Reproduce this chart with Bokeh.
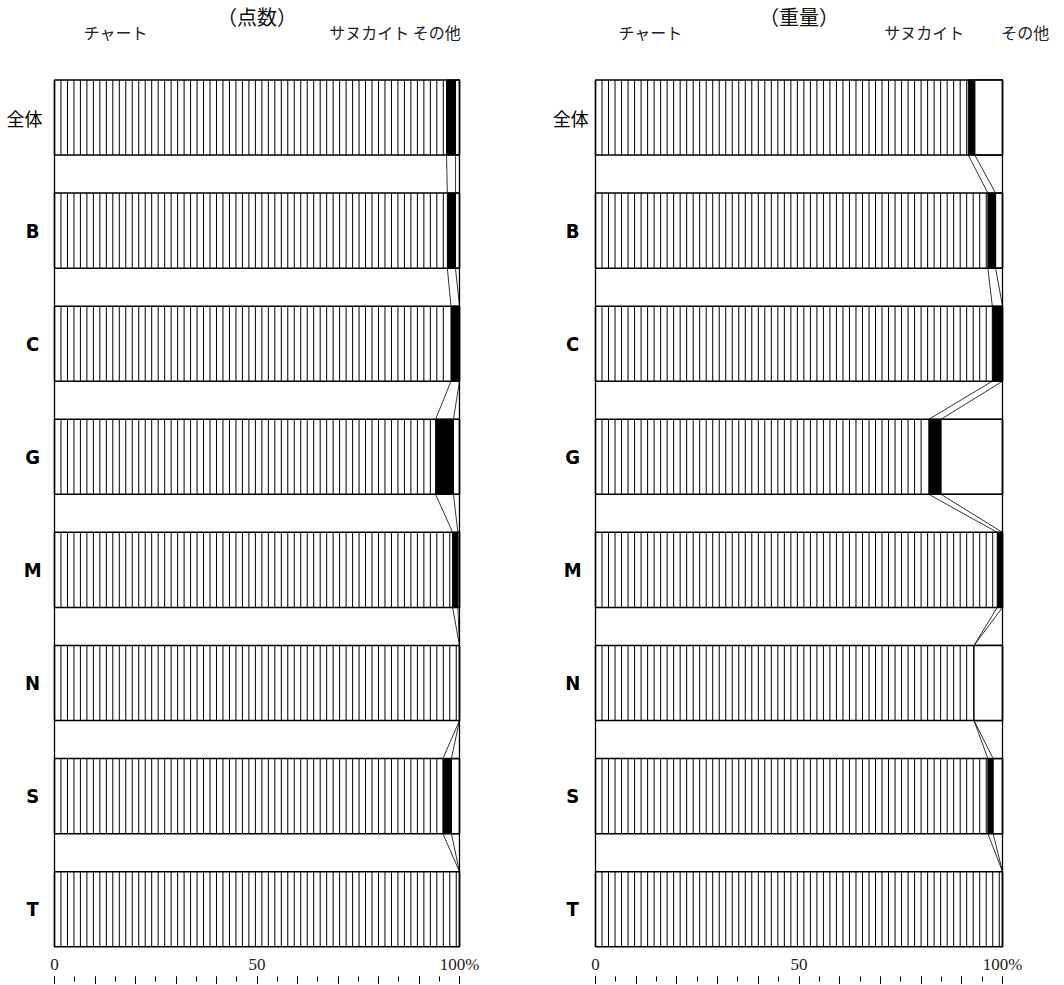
from bokeh.plotting import figure
from bokeh.layouts import row
from bokeh.models import Range1d, LinearAxis, FixedTicker, ColumnDataSource
from bokeh.core.properties import value
from bokeh.embed import file_html
from bokeh.resources import INLINE

# ---------------- data ----------------
groups = ["全体", "B", "C", "G", "M", "N", "S", "T"]

count_chert = [96.8, 97.0, 97.9, 94.1, 98.3, 100.0, 95.9, 100.0]
count_sanukite = [2.2, 2.0, 2.1, 4.4, 1.3, 0.0, 2.1, 0.0]
count_other = [1.0, 1.0, 0.0, 1.5, 0.4, 0.0, 2.0, 0.0]

weight_chert = [91.6, 96.4, 97.5, 81.9, 98.7, 93.0, 96.4, 100.0]
weight_sanukite = [1.6, 1.9, 2.5, 3.0, 1.3, 0.0, 1.3, 0.0]
weight_other = [6.8, 1.7, 0.0, 15.1, 0.0, 7.0, 2.3, 0.0]

tick_labels = {0: "0", 50: "50", 100: "100%"}
panel_titles = ["（点数）", "（重量）"]

# ---------------- layout constants ----------------
FIG_H = 984
FRAME_H = FIG_H - 34   # axes take ~34 px below the frame
PITCH = 113.1          # px per row
ROW0 = 117             # px from frame top to first row centre
Y_TOP = -ROW0 / PITCH
Y_BOT = (FRAME_H - ROW0) / PITCH
HALF = 0.332
STRIPE = 1.6

SERIF = "Liberation Serif"
JP = value("Noto Sans CJK JP")
NARROW = value("'Liberation Sans Narrow', 'DejaVu Sans Condensed', 'DejaVu Sans', sans-serif")


def ypx(px):
    """pixel offset from frame top -> data y"""
    return (px - ROW0) / PITCH


def panel(title, chert, san, other, width, x0px, x100px, fig_left, headers,
          label_x_big, label_x_small):
    scale = (x100px - x0px) / 100.0
    xs = (fig_left - x0px) / scale
    xe = (fig_left + width - x0px) / scale
    p = figure(width=width, height=FIG_H, x_range=Range1d(xs, xe),
               y_range=Range1d(Y_BOT, Y_TOP), x_axis_type=None, y_axis_type=None,
               output_backend="svg", toolbar_location=None, min_border=0,
               outline_line_color=None)
    p.background_fill_color = "white"

    n = len(groups)
    ys = list(range(n))
    end_s = [c + s for c, s in zip(chert, san)]

    src = ColumnDataSource(dict(y=ys, c=chert, s0=list(chert), s1=end_s,
                                o1=[e + o for e, o in zip(end_s, other)]))
    # chert region (white, stripes drawn on top)
    p.hbar(y="y", left=0, right="c", height=2 * HALF, source=src,
           fill_color="white", line_color=None)
    sx, sy0, sy1 = [], [], []
    for i, c in enumerate(chert):
        k = 1
        while k * STRIPE < c - 0.3:
            sx.append(k * STRIPE)
            sy0.append(i - HALF)
            sy1.append(i + HALF)
            k += 1
    p.segment(x0=sx, x1=sx, y0=sy0, y1=sy1, line_color="black", line_width=1)
    # sanukite
    p.hbar(y="y", left="s0", right="s1", height=2 * HALF, source=src,
           fill_color="black", line_color="black", line_width=1)
    # other
    p.hbar(y="y", left="s1", right="o1", height=2 * HALF, source=src,
           fill_color="white", line_color="black", line_width=1.2)
    # outline
    p.hbar(y="y", left=0, right=100, height=2 * HALF, source=src,
           fill_color=None, line_color="black", line_width=1.5)

    # connectors between bars
    cx0, cx1, cy0, cy1 = [], [], [], []
    for i in range(n - 1):
        for a, b in ((chert[i], chert[i + 1]), (end_s[i], end_s[i + 1])):
            cx0.append(a); cx1.append(b)
            cy0.append(i + HALF); cy1.append(i + 1 - HALF)
    p.segment(x0=cx0, x1=cx1, y0=cy0, y1=cy1, line_color="black", line_width=0.8)
    # side verticals
    p.segment(x0=[0, 100], x1=[0, 100], y0=[-HALF, -HALF],
              y1=[n - 1 + HALF, n - 1 + HALF], line_color="black", line_width=1.3)

    # row labels
    p.text(x=[label_x_big], y=[0], text=[groups[0]], text_font=JP,
           text_font_size="18px", text_align="center", text_baseline="middle",
           text_color="black")
    p.text(x=[label_x_small] * (n - 1), y=ys[1:], text=groups[1:], text_font=NARROW,
           text_font_size="20px", text_font_style="bold", text_align="center",
           text_baseline="middle", text_color="black")

    # title & headers
    p.text(x=[50], y=[ypx(16)], text=[title], text_font=JP,
           text_font_size="20px", text_align="center", text_baseline="middle",
           text_color="#111111")
    hx = [h[0] for h in headers]
    ht = [h[1] for h in headers]
    ha = [h[2] for h in headers]
    p.text(x=hx, y=[ypx(31)] * len(hx), text=ht, text_font=JP,
           text_font_size="16px", text_align=ha, text_baseline="middle",
           text_color="#222222")

    # axes (labels axis, then tick axis)
    ax1 = LinearAxis(ticker=FixedTicker(ticks=list(tick_labels.keys())),
                     major_label_overrides=tick_labels,
                     axis_line_color=None, major_tick_line_color=None,
                     minor_tick_line_color=None, major_tick_out=0, major_tick_in=0,
                     minor_tick_out=0, minor_tick_in=0,
                     major_label_text_font=SERIF,
                     major_label_text_font_size="17px", major_label_standoff=4,
                     major_label_text_color="#222222")
    p.add_layout(ax1, "below")
    ax2 = LinearAxis(ticker=FixedTicker(ticks=list(range(0, 101, 10)),
                                        minor_ticks=list(range(0, 101, 5))),
                     axis_line_color=None, major_tick_out=8, major_tick_in=0,
                     minor_tick_out=5, minor_tick_in=0,
                     major_tick_line_color="black", minor_tick_line_color="black",
                     major_label_overrides={t: "" for t in range(0, 101, 10)},
                     major_label_text_font_size="0px", major_label_standoff=0)
    p.add_layout(ax2, "below")
    return p


left = panel(panel_titles[0], count_chert, count_sanukite, count_other,
             540, 54, 459, 0,
             [(15.1, "チャート", "center"), (100.3, "サヌカイト その他", "right")],
             -7.4, -5.4)
right = panel(panel_titles[1], weight_chert, weight_sanukite, weight_other,
              520, 595, 1002, 540,
              [(13.5, "チャート", "center"), (80.8, "サヌカイト", "center"),
               (105.6, "その他", "center")],
              -6.1, -5.6)

layout = row(left, right)
open("out.html", "w").write(file_html(layout, INLINE))
